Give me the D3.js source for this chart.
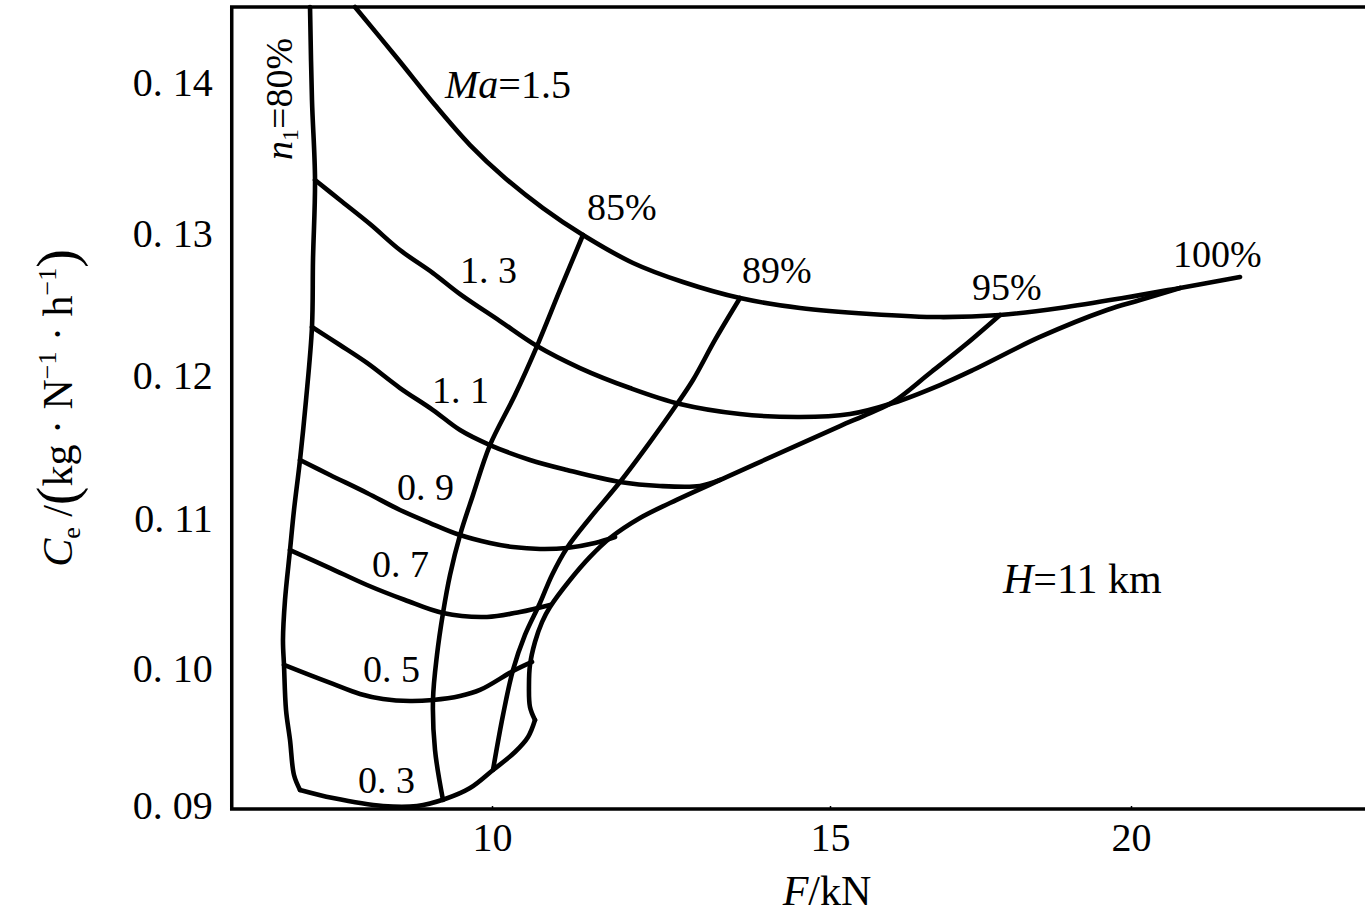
<!DOCTYPE html>
<html>
<head>
<meta charset="utf-8">
<script src="https://cdn.jsdelivr.net/npm/d3@7"></script>
<style>
    html, body { margin: 0; padding: 0; background: #fff; }
    svg { display: block; font-family: "Liberation Serif", "DejaVu Serif", serif; }
</style>
</head>
<body>
<div id="canvas"></div>
<script>
"use strict"

let svgWidth = 1365
let svgHeight = 913

// ---------------- DATA ----------------
// axis ticks and plotted range
let xTicks = [10, 15, 20]
let yTicks = [0.09, 0.10, 0.11, 0.12, 0.13, 0.14]
let xExtent = [6.15, 23.9]
let yExtent = [0.08978, 0.14503]

// each curve: [F (kN), Ce (kg/(N·h))]
let n80 = [[7.308,0.14503],[7.337,0.13887],[7.382,0.13358],[7.352,0.12817],[7.337,0.12345],[7.249,0.11832],[7.160,0.11413],[7.071,0.11063],[7.012,0.10793],[6.938,0.10460],[6.908,0.10193],[6.923,0.10027],[6.953,0.09701],[7.012,0.09482],[7.071,0.09226],[7.160,0.09117]]

let ma15 = [[7.973,0.14503],[8.595,0.14166],[9.157,0.13854],[9.675,0.13589],[10.192,0.13371],[10.754,0.13172],[11.346,0.12993],[12.086,0.12796],[12.825,0.12662],[13.669,0.12549],[14.556,0.12479],[15.664,0.12437],[16.827,0.12415],[17.824,0.12430],[18.821,0.12479],[19.867,0.12549],[20.814,0.12620],[21.811,0.12697]]

let ma13 = [[7.382,0.13358],[7.751,0.13225],[8.195,0.13066],[8.639,0.12887],[9.127,0.12725],[9.527,0.12577],[10.118,0.12387],[10.666,0.12211],[11.302,0.12056],[12.041,0.11916],[12.781,0.11804],[13.669,0.11734],[14.556,0.11713],[15.332,0.11734],[16.047,0.11811],[16.827,0.11937],[17.375,0.12042],[18.488,0.12275],[19.601,0.12465],[20.150,0.12535],[20.814,0.12620]]

let ma11 = [[7.337,0.12345],[7.751,0.12218],[8.151,0.12092],[8.639,0.11916],[9.127,0.11762],[9.527,0.11622],[9.970,0.11517],[10.562,0.11413],[11.109,0.11343],[11.893,0.11259],[12.485,0.11231],[13.077,0.11231],[13.373,0.11273]]

let ma09 = [[7.160,0.11413],[7.604,0.11308],[8.151,0.11182],[8.639,0.11063],[9.083,0.10973],[9.527,0.10893],[9.970,0.10840],[10.311,0.10813],[10.710,0.10800],[11.109,0.10807],[11.524,0.10840],[11.820,0.10880]]

let ma07 = [[7.012,0.10793],[7.604,0.10673],[8.151,0.10560],[8.713,0.10460],[9.275,0.10373],[9.926,0.10347],[10.414,0.10380],[10.858,0.10427]]

let ma05 = [[6.923,0.10027],[7.308,0.09956],[7.648,0.09891],[8.047,0.09818],[8.388,0.09781],[8.787,0.09766],[9.127,0.09774],[9.527,0.09803],[9.822,0.09847],[10.311,0.09985],[10.592,0.10047]]

let ma03 = [[7.160,0.09117],[7.648,0.09058],[8.388,0.09000],[8.891,0.09000],[9.305,0.09051],[9.675,0.09131],[10.015,0.09263],[10.340,0.09394],[10.533,0.09504],[10.636,0.09628]]

// limiting line (95% branch down to the Ma=0.3 corner)
let nMax = [[10.636,0.09628],[10.562,0.09723],[10.547,0.09883],[10.562,0.10027],[10.636,0.10180],[10.740,0.10313],[10.858,0.10413],[11.154,0.10593],[11.450,0.10747],[11.746,0.10873],[12.189,0.11007],[12.633,0.11112],[13.476,0.11294],[14.453,0.11503],[15.166,0.11650],[15.664,0.11741],[16.047,0.11818],[16.661,0.12021],[17.243,0.12218],[17.824,0.12430]]

let n85 = [[11.346,0.12993],[11.006,0.12606],[10.666,0.12211],[10.340,0.11867],[9.970,0.11517],[9.719,0.11168],[9.527,0.10893],[9.379,0.10627],[9.275,0.10373],[9.186,0.10093],[9.127,0.09774],[9.157,0.09409],[9.275,0.09044]]

let n89 = [[13.669,0.12549],[13.299,0.12254],[12.973,0.11972],[12.737,0.11804],[12.337,0.11538],[11.893,0.11259],[11.450,0.11007],[11.109,0.10807],[10.888,0.10627],[10.710,0.10440],[10.488,0.10227],[10.311,0.09993],[10.163,0.09664],[10.015,0.09263]]

// plain labels on the curves
let curveLabels = [
    { text: "85%", F: 11.405, Ce: 0.13093 },
    { text: "89%", F: 13.698, Ce: 0.12655 },
    { text: "95%", F: 17.359, Ce: 0.12535 },
    { text: "100%", F: 20.698, Ce: 0.12768 },
    { text: "1. 3", F: 9.527, Ce: 0.12655 },
    { text: "1. 1", F: 9.112, Ce: 0.11811 },
    { text: "0. 9", F: 8.595, Ce: 0.11133 },
    { text: "0. 7", F: 8.225, Ce: 0.10613 },
    { text: "0. 5", F: 8.092, Ce: 0.09905 },
    { text: "0. 3", F: 8.018, Ce: 0.09095 }
]

let curves = [n80, ma15, ma13, ma11, ma09, ma07, ma05, ma03, nMax, n85, n89]

// ---------------- SETUP ----------------
let svg = d3.select("#canvas")
    .append("svg")
    .attr("width", svgWidth)
    .attr("height", svgHeight)

// the scanned figure is slightly uneven, so the scales are piecewise
let xScale = d3.scaleLinear()
    .domain(xTicks)
    .range([492, 830, 1131])

let yScale = d3.scaleLinear()
    .domain(yTicks)
    .range([806, 669, 519, 376, 234, 83])

// ---------------- AXES ----------------
let xAxis = d3.axisBottom(xScale)
    .tickValues(xTicks)
    .tickFormat(d3.format("d"))
    .tickSizeInner(-3)
    .tickSizeOuter(0)
    .tickPadding(14)

let yAxis = d3.axisLeft(yScale)
    .tickValues(yTicks)
    .tickFormat(function(d) { return d3.format(".2f")(d).replace(".", ". ") })
    .tickSize(0)
    .tickPadding(19)

let gx = svg.append("g")
    .attr("transform", `translate(0, ${yScale(yExtent[0])})`)
    .call(xAxis)

let gy = svg.append("g")
    .attr("transform", `translate(${xScale(xExtent[0])}, 0)`)
    .call(yAxis)

;[gx, gy].forEach(function(g) {
    g.select(".domain").remove()
    g.attr("font-family", null).attr("font-size", 40)
    g.selectAll(".tick text").attr("fill", "#000")
    g.selectAll(".tick line").attr("stroke", "#000").attr("stroke-width", 1.5)
})

// frame: top, left and bottom
svg.append("path")
    .attr("d", `M${xScale(xExtent[1])},${yScale(yExtent[1])}`
        + `H${xScale(xExtent[0])}V${yScale(yExtent[0])}H${xScale(xExtent[1])}`)
    .attr("fill", "none")
    .attr("stroke", "#000")
    .attr("stroke-width", 3.5)

// ---------------- CURVES ----------------
let line = d3.line()
    .x(function(d) { return xScale(d[0]) })
    .y(function(d) { return yScale(d[1]) })
    .curve(d3.curveCatmullRom.alpha(0.5))

svg.selectAll("path.curve")
    .data(curves)
    .enter()
    .append("path")
    .attr("class", "curve")
    .attr("d", line)
    .attr("fill", "none")
    .attr("stroke", "#000")
    .attr("stroke-width", 4.6)
    .attr("stroke-linejoin", "round")
    .attr("stroke-linecap", "round")

// ---------------- LABELS ----------------
svg.selectAll("text.curveLabel")
    .data(curveLabels)
    .enter()
    .append("text")
    .attr("class", "curveLabel")
    .attr("x", function(d) { return xScale(d.F) })
    .attr("y", function(d) { return yScale(d.Ce) })
    .attr("font-size", 38)
    .text(function(d) { return d.text })

let maLabel = svg.append("text")
    .attr("x", xScale(9.305))
    .attr("y", yScale(0.13901))
    .attr("font-size", 40)
maLabel.append("tspan").attr("font-style", "italic").text("Ma")
maLabel.append("tspan").text("=1.5")

let hLabel = svg.append("text")
    .attr("x", xScale(17.874))
    .attr("y", yScale(0.10507))
    .attr("font-size", 42)
hLabel.append("tspan").attr("font-style", "italic").text("H")
hLabel.append("tspan").text("=11 km")

let nLabel = svg.append("text")
    .attr("transform", `translate(${xScale(7.041)},${yScale(0.13490)}) rotate(-90)`)
    .attr("font-size", 38)
nLabel.append("tspan").attr("font-style", "italic").text("n")
nLabel.append("tspan").attr("font-size", 24).attr("dy", 6).text("1")
nLabel.append("tspan").attr("dy", -6).text("=80%")

// x axis title
let xTitle = svg.append("text")
    .attr("x", 827)
    .attr("y", 905)
    .attr("text-anchor", "middle")
    .attr("font-size", 42)
xTitle.append("tspan").attr("font-style", "italic").text("F")
xTitle.append("tspan").text("/kN")

// y axis title
let yTitle = svg.append("text")
    .attr("transform", "translate(72,408) rotate(-90)")
    .attr("text-anchor", "middle")
    .attr("font-size", 42)
yTitle.append("tspan").attr("font-style", "italic").text("C")
yTitle.append("tspan").attr("font-size", 26).attr("dy", 8).text("e")
yTitle.append("tspan").attr("dy", -8).text(" /")
yTitle.append("tspan").attr("font-size", 56).attr("dy", 4).text("(")
yTitle.append("tspan").attr("dy", -4).text("kg · N")
yTitle.append("tspan").attr("font-size", 26).attr("dy", -16).text("−1")
yTitle.append("tspan").attr("dy", 16).text(" · h")
yTitle.append("tspan").attr("font-size", 26).attr("dy", -16).text("−1")
yTitle.append("tspan").attr("font-size", 56).attr("dy", 20).text(")")
</script>
</body>
</html>
